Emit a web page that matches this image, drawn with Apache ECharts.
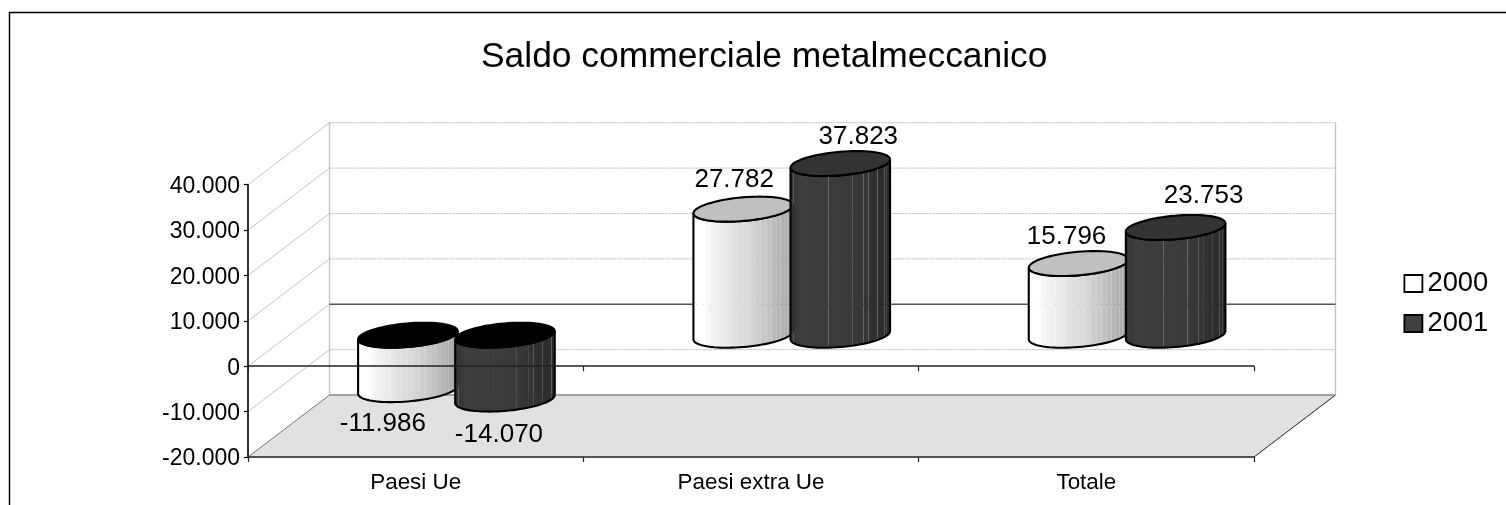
<!DOCTYPE html>
<html><head><meta charset="utf-8">
<style>html,body{margin:0;padding:0;background:#fff}#c{width:1506px;height:505px}</style>
<script src="https://cdn.jsdelivr.net/npm/echarts@6/dist/echarts.min.js"></script>
</head><body><div id="c"></div>
<script>
const categories = ['Paesi Ue', 'Paesi extra Ue', 'Totale'];
const values2000 = [-11986, 27782, 15796];
const values2001 = [-14070, 37823, 23753];
const yTicks = [-20000, -10000, 0, 10000, 20000, 30000, 40000];

const FONT = '"Liberation Sans", Arial, sans-serif';
const DEPTH_X = 81.5, DEPTH_Y = -62;
const RX = 47, SKEW_X = 16.4, SKEW_Y = 12.5;
const labelNudge2000 = [[-25, 34], [-9, -29], [-12, -27]];
const labelNudge2001 = [[-6, 36], [18, -27], [28, -32]];
const seams2000 = [3, 5, 7, 9, 11, 13, 14, 15, 16, 17, 18, 19, 20, 21, 22, 23, 24];
const seams2001 = [1, 3, 11, 15, 17, 18, 20, 22, 23];
const fmt = v => String(v).replace(/\B(?=(\d{3})+$)/g, '.');

function mix(a, b, f) { return Math.round(a + (b - a) * f); }
function shade2000(f) {
  const g = f < 0.12 ? 255 : f < 0.6 ? mix(250, 212, (f - 0.12) / 0.48) : mix(212, 165, (f - 0.6) / 0.4);
  return `rgb(${g},${g},${g})`;
}
function shade2001(f) {
  const g = f < 0.12 ? mix(50, 62, f / 0.12) : f < 0.6 ? mix(62, 58, (f - 0.12) / 0.48) : mix(58, 42, (f - 0.6) / 0.4);
  return `rgb(${g},${g},${g})`;
}

function cylinder(shade, topPos, topNeg, side, nudges, seams) {
  return function (params, api) {
    const cat = api.value(0), v = api.value(1);
    const band = api.size([1, 0])[0];
    const step = band * 0.2895;
    const zero = api.coord([cat, 0]);
    const end = api.coord([cat, v]);
    const cx = zero[0] + DEPTH_X / 2 + side * step / 2;
    const yTop = Math.min(zero[1], end[1]) + DEPTH_Y / 2;
    const yBot = Math.max(zero[1], end[1]) + DEPTH_Y / 2;
    const pt = (t, y) => [cx + RX * Math.cos(t) + SKEW_X * Math.sin(t), y - SKEW_Y * Math.sin(t)];
    const t1 = Math.atan2(SKEW_X, RX), t0 = t1 - Math.PI;
    const children = [];
    const N = 26;
    for (let i = 0; i < N; i++) {
      const a = t0 + (t1 - t0) * i / N;
      const reach = seams.includes(i + 1) || i === N - 1 ? i + 1 : i + 1.5;
      const b = t0 + (t1 - t0) * reach / N;
      const xf = (pt(a, 0)[0] + pt(b, 0)[0]) / 2;
      const f = (xf - (cx - 50)) / 100;
      children.push({ type: 'polygon', silent: true,
        shape: { points: [pt(a, yBot), pt(b, yBot), pt(b, yTop), pt(a, yTop)] },
        style: { fill: shade(f) } });
    }
    const sil = [];
    for (let i = 0; i <= 40; i++) sil.push(pt(t0 + (t1 - t0) * i / 40, yBot));
    for (let i = 0; i <= 40; i++) sil.push(pt(t1 + (t0 - t1) * i / 40, yTop));
    children.push({ type: 'polygon', silent: true, shape: { points: sil },
      style: { fill: 'none', stroke: '#000', lineWidth: 2.1 } });
    const top = [];
    for (let i = 0; i < 72; i++) top.push(pt(i * Math.PI / 36, yTop));
    children.push({ type: 'polygon', silent: true, shape: { points: top },
      style: { fill: v < 0 ? topNeg : topPos, stroke: '#000', lineWidth: 2.1 } });
    const n = nudges[cat];
    children.push({ type: 'text', silent: true,
      style: { x: cx + n[0], y: end[1] + DEPTH_Y / 2 + n[1], text: fmt(v), font: '26px ' + FONT,
        fill: '#000', align: 'center', verticalAlign: 'middle' } });
    return { type: 'group', children };
  };
}

function wall(params, api) {
  const v = api.value(1);
  const cs = params.coordSys;
  const y = api.coord([0, v])[1];
  const L = cs.x, R = cs.x + cs.width;
  const children = [];
  const isMin = v === yTicks[0], isZero = v === 0;
  if (isMin) {
    children.push({ type: 'polygon', silent: true,
      shape: { points: [[L, y], [L + DEPTH_X, y + DEPTH_Y], [R + DEPTH_X, y + DEPTH_Y], [R, y]] },
      style: { fill: '#e1e1e1' } });
    const yT = api.coord([0, yTicks[yTicks.length - 1]])[1];
    [L, R].forEach(x => children.push({ type: 'line', silent: true,
      shape: { x1: x + DEPTH_X, y1: yT + DEPTH_Y, x2: x + DEPTH_X, y2: y + DEPTH_Y },
      style: { stroke: '#c4c4c4', lineWidth: 1.3 } }));
    children.push({ type: 'line', silent: true,
      shape: { x1: R, y1: y, x2: R + DEPTH_X, y2: y + DEPTH_Y }, style: { stroke: '#222', lineWidth: 1 } });
  }
  children.push({ type: 'line', silent: true,
    shape: { x1: L, y1: y, x2: L + DEPTH_X, y2: y + DEPTH_Y },
    style: { stroke: isMin ? '#777' : '#c4c4c4', lineWidth: 1 } });
  children.push({ type: 'line', silent: true,
    shape: { x1: L + DEPTH_X, y1: y + DEPTH_Y, x2: R + DEPTH_X, y2: y + DEPTH_Y },
    style: isZero ? { stroke: '#555', lineWidth: 1.5 }
      : isMin ? { stroke: '#8a8a8a', lineWidth: 1.3 }
      : { stroke: '#b8b8b8', lineWidth: 1, lineDash: [2, 1] } });
  return { type: 'group', children };
}

const chart = echarts.init(document.getElementById('c'), null, { renderer: 'canvas' });
chart.setOption({
  animation: false,
  backgroundColor: '#fff',
  title: { text: 'Saldo commerciale metalmeccanico', left: 476, top: 35,
    textStyle: { fontFamily: FONT, fontSize: 35.4, fontWeight: 'normal', color: '#000' } },
  graphic: [{ type: 'polyline', silent: true, z: 100,
    shape: { points: [[9.5, 505], [9.5, 12.5], [1506, 12.5]] },
    style: { fill: 'none', stroke: '#000', lineWidth: 1.5 } }],
  legend: { orient: 'vertical', left: 1403.5, top: 270, padding: 0, itemWidth: 18, itemHeight: 17, itemGap: 13,
    data: ['2000', '2001'], icon: 'rect', selectedMode: false,
    itemStyle: { borderColor: '#000', borderWidth: 1.8 },
    textStyle: { fontFamily: FONT, fontSize: 27.4, color: '#000' } },
  grid: { left: 248, right: 252, top: 184.7, bottom: 48 },
  xAxis: [
    { type: 'category', data: categories, position: 'bottom', z: 5,
      axisLine: { onZero: false, lineStyle: { color: '#222', width: 1.6 } },
      axisTick: { show: true, length: 5, lineStyle: { color: '#222', width: 1.2 } },
      axisLabel: { fontFamily: FONT, fontSize: 22.4, color: '#000', margin: 15 } },
    { type: 'category', data: categories, position: 'top', z: 5,
      axisLine: { onZero: true, lineStyle: { color: '#222', width: 1.6 } },
      axisTick: { show: true, inside: true, length: 5, lineStyle: { color: '#222', width: 1.2 } },
      axisLabel: { show: false } }
  ],
  yAxis: { type: 'value', min: -20000, max: 40000, interval: 10000, z: 5, splitLine: { show: false },
    axisLine: { show: true, lineStyle: { color: '#000', width: 1.6 } },
    axisTick: { show: true, length: 4, lineStyle: { color: '#000', width: 1.2 } },
    axisLabel: { fontFamily: FONT, fontSize: 23, color: '#000', margin: 8, verticalAlign: 'top', lineHeight: 4, formatter: v => fmt(v) } },
  series: [
    { type: 'custom', name: 'wall', z: 1, clip: false, silent: true, renderItem: wall,
      encode: { x: 0, y: 1 }, data: yTicks.map(v => [0, v]) },
    { type: 'custom', name: '2000', z: 2, clip: false, itemStyle: { color: '#fff' },
      renderItem: cylinder(shade2000, '#c0c0c0', '#000', -1, labelNudge2000, seams2000),
      encode: { x: 0, y: 1 }, data: values2000.map((v, i) => [i, v]) },
    { type: 'custom', name: '2001', z: 3, clip: false, itemStyle: { color: '#404040' },
      renderItem: cylinder(shade2001, '#333333', '#000', 1, labelNudge2001, seams2001),
      encode: { x: 0, y: 1 }, data: values2001.map((v, i) => [i, v]) }
  ]
});
</script></body></html>
